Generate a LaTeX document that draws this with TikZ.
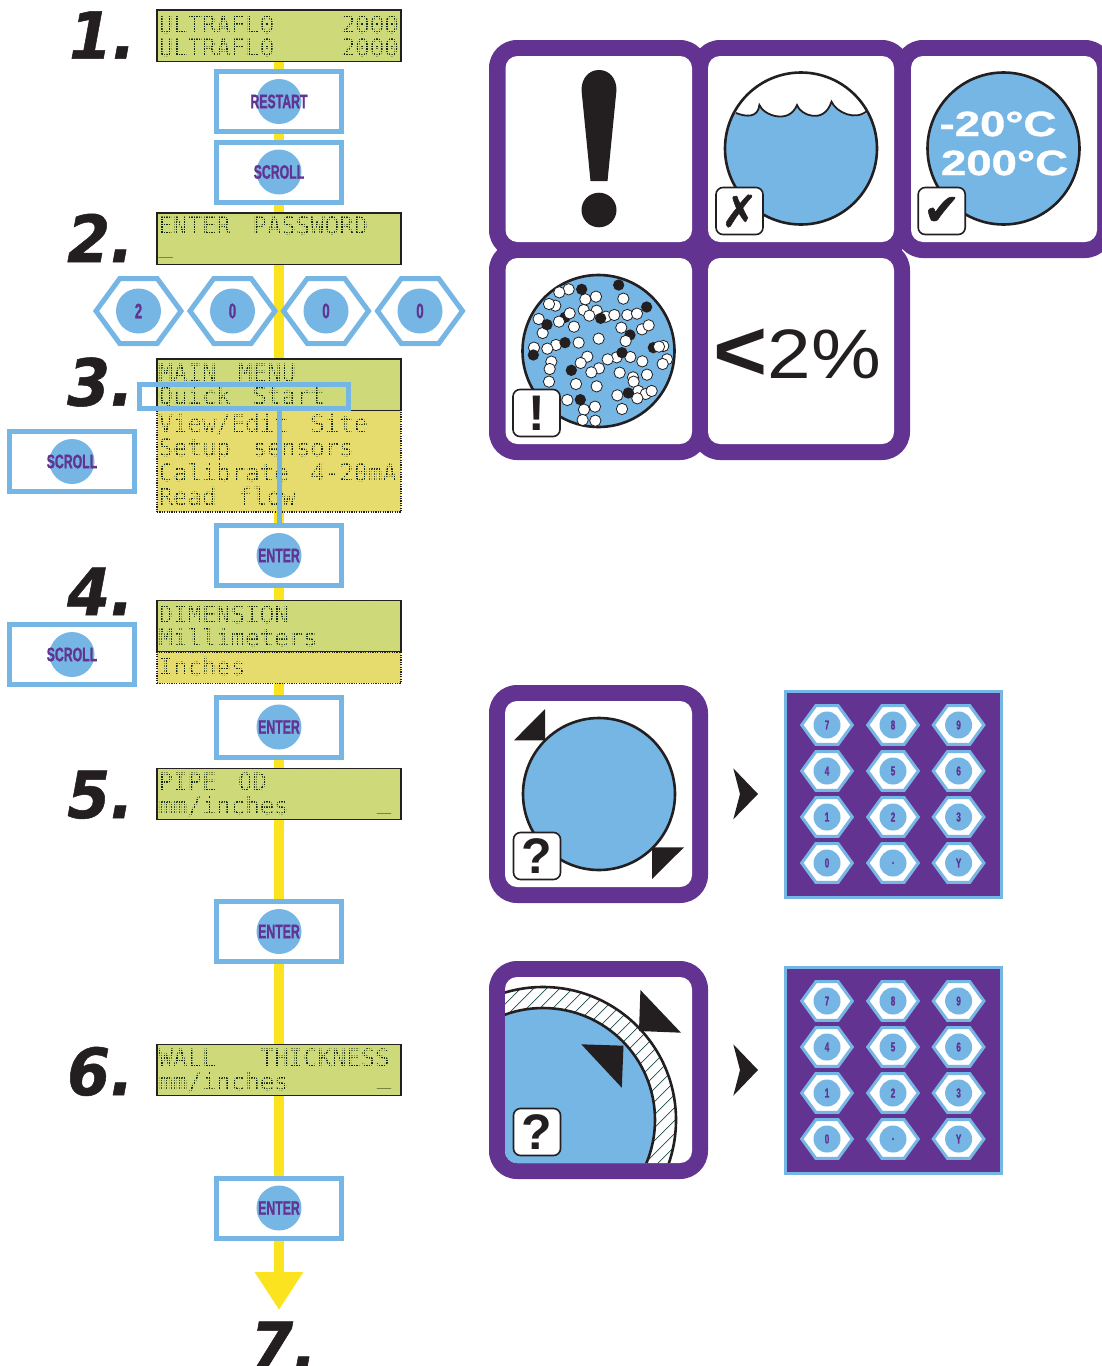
\documentclass[tikz,border=0pt]{standalone}
\usepackage{fontspec}
\usetikzlibrary{arrows.meta,backgrounds,calc}
\setmainfont{Liberation Sans}
\newfontfamily\lcdfont[WordSpace=1.5]{DejaVu Sans Mono}
\newfontfamily\btnfont[FakeStretch=0.63,FakeBold=1]{Liberation Sans Bold}
\newfontfamily\wideheavy[FakeStretch=1.3,FakeBold=1.2]{Liberation Sans Bold}
\newfontfamily\widereg[FakeStretch=1.12]{Liberation Sans}
\newfontfamily\ltfont[FakeStretch=1.08]{Liberation Sans Bold}
\newfontfamily\stepfont[FakeStretch=0.95,FakeBold=0.8]{DejaVu Sans Bold Oblique}
\newfontfamily\symfont[FakeBold=1.2]{DejaVu Sans}
\definecolor{purp}{HTML}{623391}
\definecolor{sky}{HTML}{76B6E5}
\definecolor{lcdgreen}{HTML}{CED97A}
\definecolor{lcdyellow}{HTML}{E6DC6E}
\definecolor{lcdink}{HTML}{0F2814}
\definecolor{spineyellow}{HTML}{FBE41F}
\definecolor{ink}{HTML}{231F20}
\definecolor{hatch}{HTML}{1D4F4A}
\tikzset{
  lcdpanel/.style={draw=ink,line width=1.3pt,fill=lcdgreen,minimum width=244pt,inner sep=0pt},
  lcdoption/.style={draw=ink,line width=1.2pt,dash pattern=on 1.2pt off 1.2pt,fill=lcdyellow,minimum width=244pt,inner sep=0pt},
  lcdline/.style={anchor=base west,inner sep=0pt,text=lcdink,font=\lcdfont\fontsize{24}{24}\selectfont},
  lcdright/.style={lcdline,anchor=base east},
  btnbox/.style={draw=sky,line width=5pt,fill=white,minimum width=125pt,minimum height=60pt,inner sep=0pt},
  btndisc/.style={circle,fill=sky,minimum size=45pt,inner sep=0pt,text=purp,font=\btnfont\fontsize{19.5}{20}\selectfont},
  hexline/.style={draw=sky,line width=5pt,fill=white,line join=miter},
  minihex/.style={draw=sky,line width=3pt,fill=white,line join=miter},
  hexdisc/.style={circle,fill=sky,minimum size=45pt,inner sep=0pt,text=purp,font=\btnfont\fontsize{21}{21}\selectfont},
  minidisc/.style={circle,fill=sky,minimum size=27pt,inner sep=0pt,text=purp,font=\btnfont\fontsize{13}{13}\selectfont},
  stepnum/.style={anchor=base west,inner sep=0pt,text=ink,font=\stepfont\fontsize{65}{65}\selectfont},
  spine/.style={draw=spineyellow,line width=10pt,-{Triangle[length=38pt,width=46pt]}},
  selectbox/.style={draw=sky,line width=5pt,minimum width=209pt,minimum height=24pt,inner sep=0pt},
  selectlink/.style={draw=sky,line width=5pt},
  badge/.style={draw=ink,line width=1.6pt,fill=white,rounded corners=7pt,minimum size=47pt,inner sep=0pt,text=ink},
  pipe/.style={draw=ink,line width=2.6pt},
  blackshape/.style={fill=ink,draw=none},
  padrect/.style={draw=sky,line width=3pt,fill=purp},
  whitedot/.style={draw=ink,line width=.8pt,fill=white},
}
\newcommand{\lcdgrid}[3]{%
  \foreach \gx in {0,...,96}{\draw[#3,line width=.45pt] (158+\gx*2.5,#1+.7) -- (158+\gx*2.5,#2-.7);}
  \pgfmathtruncatemacro{\gn}{(#2-#1)/2.5}
  \foreach \gy in {1,...,\gn}{\draw[#3,line width=.45pt] (157.7,#1+\gy*2.5) -- (400.3,#1+\gy*2.5);}
}
\newcommand{\cursorchar}{{\fontsize{12}{12}\selectfont\scalebox{2}[1]{\_}}}
\newcommand{\btn}[4]{%
  \node[btnbox] (#1) at (#2,#3) {};
  \node[btndisc] (#1d) at (#1) {\makebox[0pt]{#4}};
}
\newcommand{\hexkey}[4]{%
  \draw[hexline,shift={(#2,311)}] (-42.5,0)--(-18.7,-32.5)--(18.7,-32.5)--(42.5,0)--(18.7,32.5)--(-18.7,32.5)--cycle;
  \node[hexdisc] (#1) at (#2,311) {#3};
}
\newcommand{\keypad}[2]{%
  \begin{scope}[shift={(0,#2)}]
  \node[padrect,minimum width=216pt,minimum height=206pt,inner sep=0pt] (#1) at (893.5,104) {};
  \foreach \lab/\cx/\cy/\id in {7/827/35/a,8/893/35/b,9/958.6/35/c,4/827/81/d,5/893/81/e,6/958.6/81/f,1/827/127/g,2/893/127/h,3/958.6/127/i,0/827/173/j,{.}/893/173/k,Y/958.6/173/l}{
    \draw[minihex,shift={(\cx,\cy)}] (-25.3,0)--(-11.2,-19.3)--(11.2,-19.3)--(25.3,0)--(11.2,19.3)--(-11.2,19.3)--cycle;
    \node[minidisc] (#1\id) at (\cx,\cy) {\lab};
  }
  \end{scope}
}
\newcommand{\frameicon}[4]{%
  \fill[purp,rounded corners=28pt] (#1,#2) rectangle (#3,#4);
}
\newcommand{\frameinner}[4]{%
  \fill[white,rounded corners=12pt] (#1,#2) rectangle (#3,#4);
}
\begin{document}
\begin{tikzpicture}[x=1pt,y=-1pt]
\path[use as bounding box] (0,0) rectangle (1102,1366);
\begin{scope}
\clip (0,0) rectangle (1102,1366);

% step numbers
\node[stepnum] (n1) at (69,58.7) {1.};
\node[stepnum] (n2) at (67,262) {2.};
\node[stepnum] (n3) at (67,405.7) {3.};
\node[stepnum] (n4) at (67,615) {4.};
\node[stepnum] (n5) at (67,818) {5.};
\node[stepnum] (n6) at (67,1095) {6.};
\node[stepnum] (n7) at (250,1369) {7.};

% panel 1
\node[lcdpanel,minimum height=51pt] (p1) at (279,35.5) {};
\node[lcdline] (t1a) at (158.5,33) {ULTRAFL0};
\node[lcdright] (t1b) at (399,33) {2000};
\node[lcdline] (t1c) at (158.5,56) {ULTRAFL0};
\node[lcdright] (t1d) at (399,56) {2000};
\lcdgrid{10}{61}{lcdgreen}
% panel 2
\node[lcdpanel,minimum height=51pt] (p2) at (279,238.5) {};
\node[lcdline] (t2a) at (158.5,234) {ENTER PASSWORD};
\lcdgrid{213}{264}{lcdgreen}
\node[lcdline] (t2b) at (158.5,255.5) {\cursorchar};
% panel 3
\node[lcdoption,minimum height=102pt] (p3o) at (279,461) {};
\node[lcdline] (t3c) at (158.5,432) {View/Edit Site};
\node[lcdline] (t3d) at (158.5,456) {Setup sensors};
\node[lcdline] (t3e) at (158.5,481) {Calibrate 4-20mA};
\node[lcdline] (t3f) at (158.5,505.5) {Read flow};
\lcdgrid{410}{512}{lcdyellow}
\node[lcdpanel,minimum height=51pt] (p3) at (279,384.5) {};
\node[lcdline] (t3a) at (158.5,381) {MAIN MENU};
\node[lcdline] (t3b) at (158.5,404.5) {Quick Start};
\lcdgrid{359}{410}{lcdgreen}
% panel 4
\node[lcdoption,minimum height=31pt] (p4o) at (279,667.5) {};
\node[lcdline] (t4c) at (158.5,675) {Inches};
\lcdgrid{652}{683}{lcdyellow}
\node[lcdpanel,minimum height=51pt] (p4) at (279,626) {};
\node[lcdline] (t4a) at (158.5,623) {DIMENSION};
\node[lcdline] (t4b) at (158.5,646) {Millimeters};
\lcdgrid{600}{651}{lcdgreen}
% panel 5
\node[lcdpanel,minimum height=51pt] (p5) at (279,794) {};
\node[lcdline] (t5a) at (158.5,790) {PIPE OD};
\node[lcdline] (t5b) at (158.5,814) {mm/inches};
\lcdgrid{768}{819}{lcdgreen}
\node[lcdright] (t5c) at (391.5,811) {\cursorchar};
% panel 6
\node[lcdpanel,minimum height=51pt] (p6) at (279,1070) {};
\node[lcdline] (t6a) at (158.5,1066) {WALL\ \ THICKNESS};
\node[lcdline] (t6b) at (158.5,1090) {mm/inches};
\lcdgrid{1044}{1095}{lcdgreen}
\node[lcdright] (t6c) at (391.5,1086) {\cursorchar};

% buttons
\btn{b1}{279}{101.5}{RESTART}
\btn{b2}{279}{172}{SCROLL}
\btn{b3}{72}{461.5}{SCROLL}
\btn{b4}{279}{555.5}{ENTER}
\btn{b5}{72}{654.5}{SCROLL}
\btn{b6}{279}{727}{ENTER}
\btn{b7}{279}{931.5}{ENTER}
\btn{b8}{279}{1208}{ENTER}

% password hexes
\hexkey{h1}{138.5}{2}{}
\hexkey{h2}{232.5}{0}{}
\hexkey{h3}{326}{0}{}
\hexkey{h4}{420}{0}{}

% selection
\node[selectbox] (sel) at (244,396) {};
\draw[selectlink] (sel.south -| b4) -- (b4.north);

% top icon frames
\frameicon{489}{40}{708}{258}
\frameicon{692}{40}{910}{258}
\frameicon{895}{40}{1113}{258}
\frameicon{489}{242}{708}{460}
\frameicon{692}{242}{910}{460}
\frameinner{505.5}{56}{692}{242}
\frameinner{708}{56}{894}{242}
\frameinner{911}{56}{1097}{242}
\frameinner{505.5}{258}{692}{444}
\frameinner{708}{258}{894}{444}

% big exclamation
\fill[ink] (590.5,181) -- (581.5,90) .. controls (581.5,78) and (589,70) .. (599,70) .. controls (609,70) and (616.5,78) .. (616.5,90) -- (607.5,181) -- cycle;
\fill[ink] (599,210) ellipse [x radius=17.5,y radius=17.3];

% level icon
\begin{scope}
\clip (801,148.5) circle [radius=76];
\fill[sky] (801,148.5) circle [radius=76];
\fill[white] (725,113) -- (736,113) .. controls (746,117) and (758,118) .. (759.4,105) .. controls (763,115) and (789,125) .. (797,105) .. controls (800,115) and (824,125) .. (831.5,101.7) .. controls (836,112) and (856,122) .. (870,111) -- (880,70) -- (725,70) -- cycle;
\draw[ink,line width=1.8pt] (736,113) .. controls (746,117) and (758,118) .. (759.4,105) .. controls (763,115) and (789,125) .. (797,105) .. controls (800,115) and (824,125) .. (831.5,101.7) .. controls (836,112) and (856,122) .. (868,110);
\end{scope}
\draw[pipe] (801,148.5) circle [radius=76];
\node[badge,font=\symfont\fontsize{44}{44}\selectfont] (bx) at (739.5,211) {✗};

% temperature icon
\draw[pipe,fill=sky] (1003.5,148.5) circle [radius=76];
\node[anchor=base,inner sep=0pt,text=white,font=\wideheavy\fontsize{35}{35}\selectfont] (t20) at (998,136) {-20°C};
\node[anchor=base,inner sep=0pt,text=white,font=\wideheavy\fontsize{35}{35}\selectfont] (t200) at (1004.5,175) {200°C};
\node[badge,font=\symfont\fontsize{44}{44}\selectfont] (bc) at (941.7,211) {✔};

% particles icon
\draw[pipe,fill=sky] (598.5,351) circle [radius=76];
\begin{scope}[shift={(510,265)},x=.3333pt,y=-.3333pt]
\foreach \px/\py in {165/157,430/248,360/210}{\fill[ink] (\px,\py) circle [radius=17];}
\foreach \px/\py in {176/73,148/82,226/103,258/95,340/101,136/122,117/117,221/135,260/137,238/152,288/155,313/150,352/150,381/146,86/162,179/145,147/170,192/185,334/188,396/193,416/181,98/204,266/221,206/233,347/228,138/240,112/251,72/248,460/243,447/245,320/277,293/283,361/276,232/275,212/294,124/290,119/312,397/289,471/283,458/297,267/310,244/322,329/323,411/329,369/337,371/350,117/350,198/357,260/364,322/391,385/378,407/387,425/378,382/400,172/405,255/425,222/434,336/432,218/465,256/467}{\draw[whitedot] (\px,\py) circle [radius=17];}
\foreach \px/\py in {215/73,326/60,410/126,272/160,111/179,165/233,70/270,336/263,184/316,355/384,211/404}{\fill[ink] (\px,\py) circle [radius=17];}
\end{scope}
\node[badge,font=\bfseries\fontsize{50}{50}\selectfont] (be) at (536.5,413) {!};

% percent icon
\node[anchor=base,inner sep=0pt,text=ink,font=\widereg\fontsize{70}{70}\selectfont] (pct) at (797,378) {\raisebox{-2pt}{\ltfont\fontsize{86}{86}\selectfont<}2\%};
\end{scope}

% diameter icon
\frameicon{489}{685}{708}{903}
\frameinner{505}{701}{692}{887}
\draw[pipe,fill=sky] (599,794) circle [radius=76];
\fill[blackshape] (545,709) -- (514,740.3) -- (545,740.3) -- cycle;
\fill[blackshape] (652,847.3) -- (684,847.3) -- (652,879) -- cycle;
\node[badge,font=\bfseries\fontsize{50}{50}\selectfont] (bq1) at (537,856) {?};
\fill[blackshape] (733.3,768.3) -- (758,794) -- (733.3,819.3) -- (740,794) -- cycle;

% wall icon
\frameicon{489}{961}{708}{1179}
\frameinner{505}{977}{692}{1163}
\begin{scope}
\clip[rounded corners=12pt] (505,977) rectangle (692,1163);
\begin{scope}
\clip (543,1120) circle [radius=133];
\foreach \hx in {0,13,...,520}{\draw[hatch,line width=.7pt] (290+\hx,1180) -- (290+\hx+200,980);}
\end{scope}
\draw[pipe] (543,1120) circle [radius=133];
\draw[pipe,fill=sky] (543,1120) circle [radius=112];
\end{scope}
\fill[blackshape] (640.4,990) -- (681,1032.7) -- (639,1031) -- cycle;
\fill[blackshape] (581.3,1044.3) -- (623.5,1045.7) -- (621.8,1087.7) -- cycle;
\node[badge,font=\bfseries\fontsize{50}{50}\selectfont] (bq2) at (537,1132) {?};
\fill[blackshape] (733.3,1044.3) -- (758,1070) -- (733.3,1095.7) -- (740,1070) -- cycle;

% keypads
\keypad{ka}{690}
\keypad{kb}{966}

% spine behind everything
\coordinate (tip) at (279,1310);
\begin{pgfonlayer}{background}
\draw[spine] (p1.south) -- (tip);
\end{pgfonlayer}
\end{tikzpicture}
\end{document}
